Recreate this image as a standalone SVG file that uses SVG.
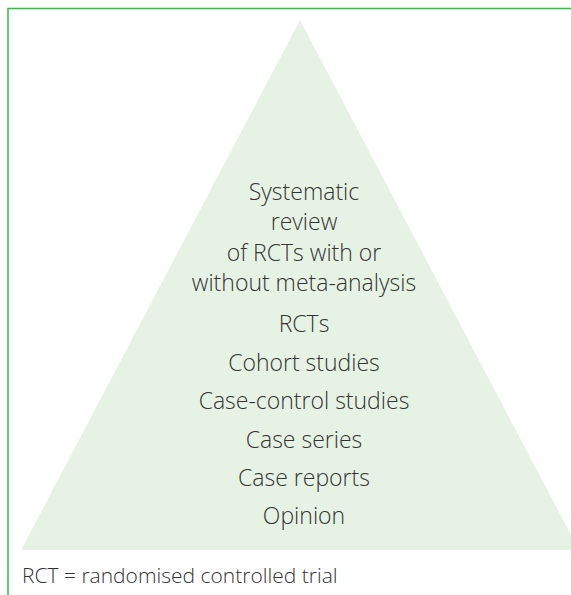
<svg xmlns="http://www.w3.org/2000/svg" width="571" height="595" viewBox="0 0 571 595">
<style>
.lbl{font-family:"Open Sans","Liberation Sans",sans-serif;font-weight:300;font-size:23px;fill:#333;text-anchor:middle}
.foot{font-family:"Open Sans","Liberation Sans",sans-serif;font-weight:300;font-size:21px;fill:#333}
</style>
<rect width="571" height="595" fill="#fff"/>
<g id="frame" fill="none" stroke="#2fbf3f" stroke-width="1.5">
<polyline points="8,595 8,8.5 571,8.5"/>
</g>
<g id="pyramid">
<polygon points="300,20 21,550 579,550" fill="#e6f3e4"/>
</g>
<g id="labels">
<text class="lbl" x="304" y="200">Systematic</text>
<text class="lbl" x="304" y="230">review</text>
<text class="lbl" x="304" y="261">of RCTs with or</text>
<text class="lbl" x="304" y="291">without meta-analysis</text>
<text class="lbl" x="304" y="332">RCTs</text>
<text class="lbl" x="304" y="371">Cohort studies</text>
<text class="lbl" x="304" y="409">Case-control studies</text>
<text class="lbl" x="304" y="448">Case series</text>
<text class="lbl" x="304" y="486">Case reports</text>
<text class="lbl" x="304" y="524">Opinion</text>
</g>
<g id="footnote">
<text class="foot" x="22" y="583">RCT = randomised controlled trial</text>
</g>
</svg>
